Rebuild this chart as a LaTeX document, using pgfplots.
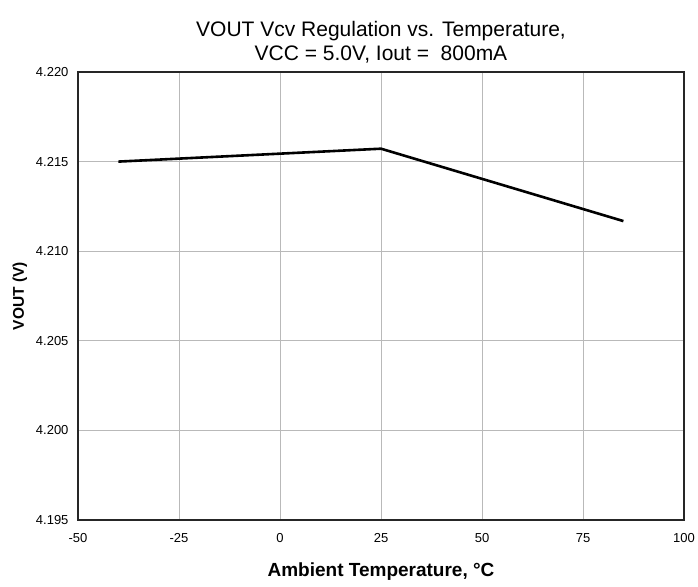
\documentclass[border=0pt]{standalone}
\usepackage{pgfplots}
\pgfplotsset{compat=1.18}
\usepackage{fontspec}
\setmainfont{Liberation Sans}
\begin{document}
\begin{tikzpicture}[x=1pt,y=1pt]
\useasboundingbox (0,0) rectangle (698,586);
\begin{axis}[
  scale only axis,
  width=606pt, height=448pt,
  at={(78pt,66pt)},
  xmin=-50, xmax=100, ymin=4.195, ymax=4.220,
  xtick={-50,-25,...,100},
  ytick={4.195,4.200,...,4.220},
  /pgf/number format/assume math mode=true,
  yticklabel style={/pgf/number format/fixed,/pgf/number format/fixed zerofill,/pgf/number format/precision=3},
  ticklabel style={font=\fontsize{13}{15}\selectfont},
  tick style={draw=none},
  grid=major,
  major grid style={gray!55, line width=0.8pt},
  axis line style={black!85, line width=1.8pt},
  xticklabel style={yshift=-10pt},
  yticklabel style={xshift=-6pt},
  xlabel={\textbf{Ambient Temperature, °C}},
  ylabel={\textbf{VOUT (V)}},
  xlabel style={font=\fontsize{19}{22}\selectfont, yshift=-13pt},
  ylabel style={font=\fontsize{15.5}{17}\selectfont, yshift=2pt},
  title={VOUT Vcv Regulation vs. Temperature,\\VCC = 5.0V, Iout =\ \ 800mA},
  title style={font=\fontsize{21}{24}\selectfont, align=center, at={(0.5,1)}, anchor=south, yshift=-1pt},
]
\addplot[black, line width=2.6pt] coordinates {(-40,4.2150) (25,4.21572) (85,4.21168)};
\end{axis}
\end{tikzpicture}
\end{document}
